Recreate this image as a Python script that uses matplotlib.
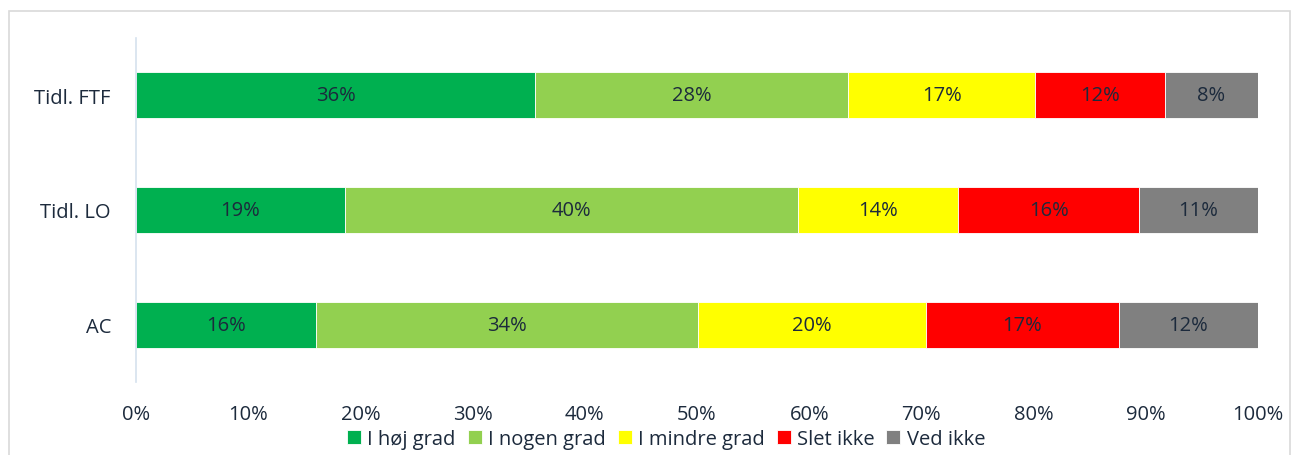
import matplotlib.pyplot as plt
from matplotlib.patches import Rectangle
import numpy as np

plt.rcParams['font.family'] = ['Open Sans', 'DejaVu Sans']

categories = ["Tidl. FTF", "Tidl. LO", "AC"]
series = ["I høj grad", "I nogen grad", "I mindre grad", "Slet ikke", "Ved ikke"]
values = {
    "I høj grad":    [35.6, 18.6, 16.0],
    "I nogen grad":  [27.9, 40.4, 34.1],
    "I mindre grad": [16.6, 14.3, 20.3],
    "Slet ikke":     [11.6, 16.1, 17.2],
    "Ved ikke":      [8.3, 10.6, 12.4],
}
colors = ["#00B050", "#92D050", "#FFFF00", "#FF0000", "#808080"]
text_color = "#1c2a3c"
fs = 14.5

fig = plt.figure(figsize=(12.93, 4.56), dpi=100)
ax = fig.add_axes([136 / 1293, 1 - 383 / 456, 1122 / 1293, 344 / 456])

# light frame around the chart area
fig.patches.append(Rectangle((9 / 1293, -0.05), 1281 / 1293, 1 - 12 / 456 + 0.05,
                             transform=fig.transFigure, fill=False,
                             edgecolor="#d9d9d9", linewidth=1.2))

y = np.arange(len(categories))
left = np.zeros(len(categories))
for name, col in zip(series, colors):
    vals = np.array(values[name])
    ax.barh(y, vals, left=left, height=0.4, color=col, edgecolor="white",
            linewidth=0.6, label=name)
    for yi, l, v in zip(y, left, vals):
        ax.text(l + v / 2, yi, f"{v:.0f}%", ha="center", va="center",
                fontsize=fs, color=text_color)
    left += vals

ax.set_xlim(0, 100)
ax.set_ylim(2.5, -0.5)
ax.set_yticks(y)
ax.set_yticklabels(categories, fontsize=fs, color=text_color)
ax.set_xticks(np.arange(0, 101, 10))
ax.set_xticklabels([f"{t}%" for t in range(0, 101, 10)], fontsize=fs, color=text_color)
ax.tick_params(axis="both", length=0)
ax.tick_params(axis="y", pad=18)
ax.tick_params(axis="x", pad=16)
for s in ["top", "right", "bottom"]:
    ax.spines[s].set_visible(False)
ax.spines["left"].set_color("#d5e1ee")
ax.spines["left"].set_linewidth(1.2)

fig.legend(loc="center", bbox_to_anchor=(666 / 1293, 1 - 440 / 456), ncol=5,
           frameon=False, fontsize=fs, handlelength=0.7, handleheight=0.7,
           handletextpad=0.3, columnspacing=0.6, labelcolor=text_color,
           borderpad=0)

fig.savefig("out.png", dpi=100)
